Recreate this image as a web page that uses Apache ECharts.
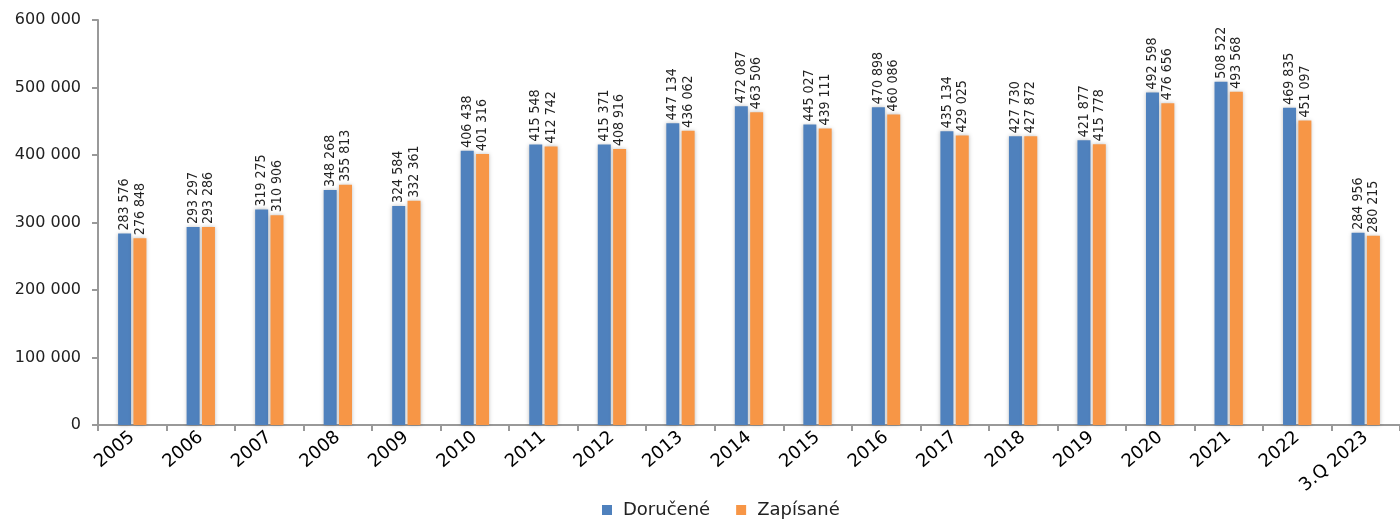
<!DOCTYPE html>
<html>
<head>
<meta charset="utf-8">
<script src="https://cdn.jsdelivr.net/npm/echarts@6/dist/echarts.min.js"></script>
<style>
html,body{margin:0;padding:0;background:#fff;}
#chart{width:1400px;height:521px;}
</style>
</head>
<body>
<div id="chart"></div>
<script>
var categories = ['2005','2006','2007','2008','2009','2010','2011','2012','2013','2014','2015','2016','2017','2018','2019','2020','2021','2022','3.Q 2023'];
var dorucene = [283576,293297,319275,348268,324584,406438,415548,415371,447134,472087,445027,470898,435134,427730,421877,492598,508522,469835,284956];
var zapisane = [276848,293286,310906,355813,332361,401316,412742,408916,436062,463506,439111,460086,429025,427872,415778,476656,493568,451097,280215];
var seriesNames = ['Doručené','Zapísané'];
var yTicks = [0,100000,200000,300000,400000,500000,600000];

function fmt(v){ return String(v).replace(/\B(?=(\d{3})+(?!\d))/g,' '); }

var chart = echarts.init(document.getElementById('chart'));
var labelStyle = {
  show: true, position: 'top', rotate: 90, align: 'left', verticalAlign: 'middle',
  distance: 3, fontFamily: '"DejaVu Sans Condensed", "Liberation Sans Narrow", sans-serif', fontSize: 14, color: '#222',
  formatter: function(p){ return fmt(p.value); }
};
chart.setOption({
  animation: false,
  grid: {left: 98, right: -13, top: 20, bottom: 96, containLabel: false},
  legend: {
    bottom: -3, left: 597, itemWidth: 10, itemHeight: 10, itemGap: 26,
    icon: 'rect',
    textStyle: {fontFamily: 'DejaVu Sans', fontSize: 18, color: '#222', padding: [0,0,0,6]},
    data: seriesNames
  },
  xAxis: {
    type: 'category', data: categories,
    axisLine: {lineStyle: {color: '#999', width: 2}},
    axisTick: {show: true, length: 6, lineStyle: {color: '#999', width: 2}},
    axisLabel: {rotate: 40, fontSize: 18, color: '#000', fontFamily: 'DejaVu Sans', margin: 10, interval: 0}
  },
  yAxis: {
    type: 'value', min: yTicks[0], max: yTicks[yTicks.length-1], interval: 100000,
    axisLine: {show: true, lineStyle: {color: '#999', width: 2}},
    axisTick: {show: true, length: 6, lineStyle: {color: '#999', width: 2}},
    splitLine: {show: false},
    axisLabel: {fontSize: 16, color: '#222', fontFamily: 'DejaVu Sans', margin: 17, formatter: fmt}
  },
  series: [
    {name: seriesNames[0], type: 'bar', data: dorucene, barWidth: 13, barGap: '18%',
     itemStyle: {color: '#4f81bd', shadowColor: 'rgba(0,0,0,0.25)', shadowBlur: 4},
     label: labelStyle},
    {name: seriesNames[1], type: 'bar', data: zapisane, barWidth: 13,
     itemStyle: {color: '#f79646', shadowColor: 'rgba(0,0,0,0.25)', shadowBlur: 4},
     label: labelStyle}
  ]
});
</script>
</body>
</html>
